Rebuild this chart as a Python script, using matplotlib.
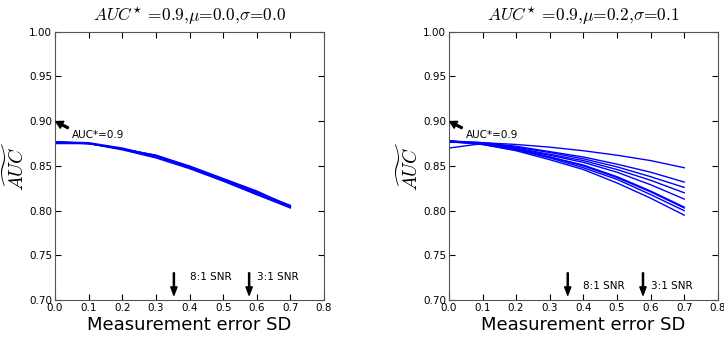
import numpy as np
import matplotlib
matplotlib.use('Agg')
import matplotlib.pyplot as plt

plt.rcParams['mathtext.fontset'] = 'cm'
plt.rcParams['font.family'] = 'DejaVu Sans'

# measurement error SD grid
error_sd = [0.0, 0.1, 0.2, 0.3, 0.4, 0.5, 0.6, 0.7]

# left panel: mu=0.0, sigma=0.0 (runs lie almost on top of each other)
left_runs = [
    [0.877, 0.875, 0.869, 0.860, 0.848, 0.834, 0.819, 0.804],
    [0.876, 0.875, 0.869, 0.862, 0.849, 0.835, 0.821, 0.805],
    [0.877, 0.876, 0.870, 0.861, 0.848, 0.834, 0.818, 0.804],
    [0.876, 0.875, 0.869, 0.862, 0.850, 0.836, 0.822, 0.805],
    [0.875, 0.875, 0.868, 0.859, 0.847, 0.833, 0.818, 0.803],
    [0.877, 0.875, 0.869, 0.861, 0.849, 0.835, 0.820, 0.806],
]

# right panel: mu=0.2, sigma=0.1
right_runs = [
    [0.877, 0.876, 0.874, 0.871, 0.867, 0.862, 0.856, 0.848],
    [0.878, 0.876, 0.872, 0.866, 0.860, 0.852, 0.843, 0.832],
    [0.877, 0.876, 0.871, 0.865, 0.858, 0.849, 0.838, 0.826],
    [0.878, 0.875, 0.870, 0.863, 0.856, 0.846, 0.834, 0.820],
    [0.877, 0.875, 0.869, 0.862, 0.854, 0.843, 0.829, 0.813],
    [0.878, 0.875, 0.868, 0.860, 0.851, 0.838, 0.822, 0.804],
    [0.870, 0.875, 0.869, 0.860, 0.850, 0.837, 0.821, 0.803],
    [0.877, 0.874, 0.868, 0.859, 0.848, 0.835, 0.818, 0.800],
    [0.878, 0.874, 0.867, 0.857, 0.846, 0.831, 0.814, 0.795],
]

titles = [r'$AUC^{\star}$ =0.9,$\mu$=0.0,$\sigma$=0.0',
          r'$AUC^{\star}$ =0.9,$\mu$=0.2,$\sigma$=0.1']
snr_sd = [np.sqrt(1 / 8.0), np.sqrt(1 / 3.0)]
snr_labels = ['8:1 SNR', '3:1 SNR']
snr_text_x = [0.40, 0.60]
snr_text_y = [0.7255, 0.7155]
true_auc = 0.9


def draw_panel(ax, runs, title, text_y):
    # draws one panel of AUC-tilde vs measurement error
    for run in runs:
        ax.plot(error_sd, run, '-', color='b', lw=1.0)
    ax.set_xlim(0.0, 0.8)
    ax.set_ylim(0.70, 1.00)
    ax.set_xticks(np.arange(0, 0.81, 0.1))
    ax.set_yticks(np.arange(0.70, 1.001, 0.05))
    ax.xaxis.set_major_formatter(plt.FormatStrFormatter('%.1f'))
    ax.yaxis.set_major_formatter(plt.FormatStrFormatter('%.2f'))
    ax.tick_params(direction='in', top=True, right=True, length=4,
                   labelsize=7.5, pad=2)
    for sp in ax.spines.values():
        sp.set_color('#555555')
    ax.set_title(title, fontsize=12.5, pad=8, family='cmr10')
    ax.set_xlabel('Measurement error SD', fontsize=13, labelpad=2)
    ax.set_ylabel(r'$\widetilde{AUC}$', fontsize=14, labelpad=1)
    ax.annotate('AUC*=0.9', xy=(0.0, true_auc), xytext=(0.05, 0.8815),
                fontsize=7.5,
                arrowprops=dict(facecolor='black', edgecolor='black',
                                width=1.3, headwidth=5.5, headlength=5,
                                shrink=0.05))
    for sd, lab, tx in zip(snr_sd, snr_labels, snr_text_x):
        ax.annotate('', xy=(sd, 0.7055), xytext=(sd, 0.7305),
                    arrowprops=dict(facecolor='black', edgecolor='black',
                                    width=0.8, headwidth=4.5,
                                    headlength=6, shrink=0.0))
        ax.text(tx, text_y, lab, fontsize=7.5, va='center', ha='left')


fig = plt.figure(figsize=(7.24, 3.45), dpi=100)
ax1 = fig.add_axes([0.076, 0.130, 0.3715, 0.778])
ax2 = fig.add_axes([0.620, 0.130, 0.3715, 0.778])
draw_panel(ax1, left_runs, titles[0], snr_text_y[0])
draw_panel(ax2, right_runs, titles[1], snr_text_y[1])

fig.savefig('out.png', dpi=100)
